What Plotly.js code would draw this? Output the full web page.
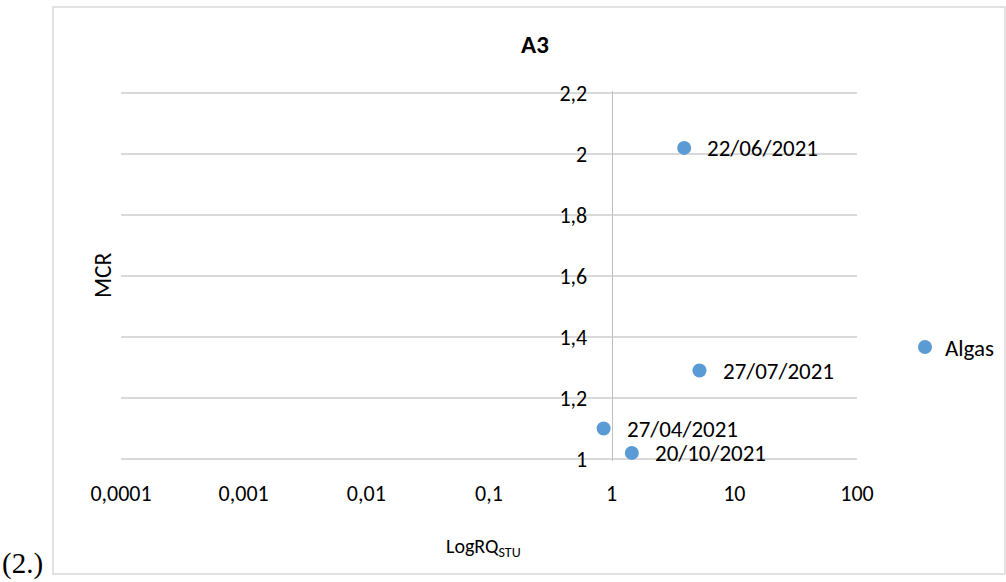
<!DOCTYPE html>
<html>
<head>
<meta charset="utf-8">
<script src="https://cdn.plot.ly/plotly-3.0.1.min.js"></script>
<style>html,body{margin:0;padding:0;background:#fff;}#chart{width:1006px;height:582px;}</style>
</head>
<body>
<div id="chart"></div>
<script>
// ---- data ----
const seriesName = "Algas";
const sampleDates = ["27/04/2021", "20/10/2021", "22/06/2021", "27/07/2021"];
const logRQ = [0.86, 1.46, 3.9, 5.2];
const mcr = [1.10, 1.02, 2.02, 1.29];
const xTickVals = [0.0001, 0.001, 0.01, 0.1, 1, 10, 100];
const xTickText = ["0,0001", "0,001", "0,01", "0,1", "1", "10", "100"];
const yTickVals = [1, 1.2, 1.4, 1.6, 1.8, 2, 2.2];
const yTickText = ["1", "1,2", "1,4", "1,6", "1,8", "2", "2,2"];
const chartTitle = "A3";
const xTitle = "LogRQ<sub>STU</sub>";
const yTitle = "MCR";
const caption = "(2.)";

const FONT = "Calibri, Carlito, Lato, 'Liberation Sans', sans-serif";
const BLUE = "#5b9bd5";

// plot area geometry (pixels)
const L = 121, R = 857, T = 91, B = 461;
const W = R - L, H = B - T;
const px = v => (v - L) / W;
const py = v => (B - v) / H;

const trace = {
  type: "scatter",
  mode: "markers",
  name: seriesName,
  x: logRQ,
  y: mcr,
  marker: {color: BLUE, size: 14},
  cliponaxis: false,
  hoverinfo: "skip"
};

const labelAnns = sampleDates.map((d, i) => ({
  x: Math.log10(logRQ[i]), y: mcr[i], xref: "x", yref: "y",
  text: d, showarrow: false, xanchor: "left", yanchor: "middle",
  xshift: 21, font: {family: FONT, size: 23, color: "#000"}
}));

const layout = {
  width: 1006, height: 582,
  margin: {l: L, r: 1006 - R, t: T, b: 582 - B, autoexpand: false},
  paper_bgcolor: "#fff", plot_bgcolor: "#fff",
  font: {family: FONT, size: 22, color: "#000"},
  showlegend: true,
  legend: {x: px(905), y: py(347), xanchor: "left", yanchor: "middle",
           font: {family: FONT, size: 23, color: "#000"}, bgcolor: "rgba(0,0,0,0)"},
  xaxis: {
    type: "log", range: [-4, 2],
    tickvals: xTickVals, ticktext: xTickText,
    showgrid: false, zeroline: false, showline: false, ticks: "",
    ticklabelstandoff: 17,
    tickfont: {family: FONT, size: 22, color: "#000"}
  },
  yaxis: {
    range: [0.9935, 2.2065],
    tickvals: yTickVals, ticktext: yTickText,
    anchor: "free", position: 4 / 6,
    showline: true, linecolor: "#bfbfbf", linewidth: 1.5,
    showgrid: true, gridcolor: "#d9d9d9", gridwidth: 1.5,
    zeroline: false, ticks: "",
    ticklabelstandoff: 20,
    tickfont: {family: FONT, size: 22, color: "#000"}
  },
  shapes: [
    {type: "rect", xref: "paper", yref: "paper",
     x0: px(53), x1: px(1005), y0: py(574), y1: py(7),
     line: {color: "#d9d9d9", width: 1.5}, fillcolor: "rgba(0,0,0,0)", layer: "below"}
  ],
  annotations: [
    {text: "<b>" + chartTitle + "</b>", xref: "paper", yref: "paper",
     x: px(535), y: py(45), showarrow: false,
     xanchor: "center", yanchor: "middle", font: {family: FONT, size: 25, color: "#000"}},
    {text: xTitle, xref: "paper", yref: "paper",
     x: px(483), y: py(547), showarrow: false,
     xanchor: "center", yanchor: "middle", font: {family: FONT, size: 20, color: "#000"}},
    {text: yTitle, xref: "paper", yref: "paper", textangle: -90,
     x: px(103), y: py(275), showarrow: false,
     xanchor: "center", yanchor: "middle", font: {family: FONT, size: 23.5, color: "#000"}},
    {text: caption, xref: "paper", yref: "paper",
     x: px(0), y: py(582), showarrow: false,
     xanchor: "left", yanchor: "bottom",
     font: {family: "'Liberation Serif', 'Times New Roman', serif", size: 29, color: "#000"}}
  ].concat(labelAnns)
};

Plotly.newPlot("chart", [trace], layout, {displayModeBar: false, staticPlot: true});
</script>
</body>
</html>
